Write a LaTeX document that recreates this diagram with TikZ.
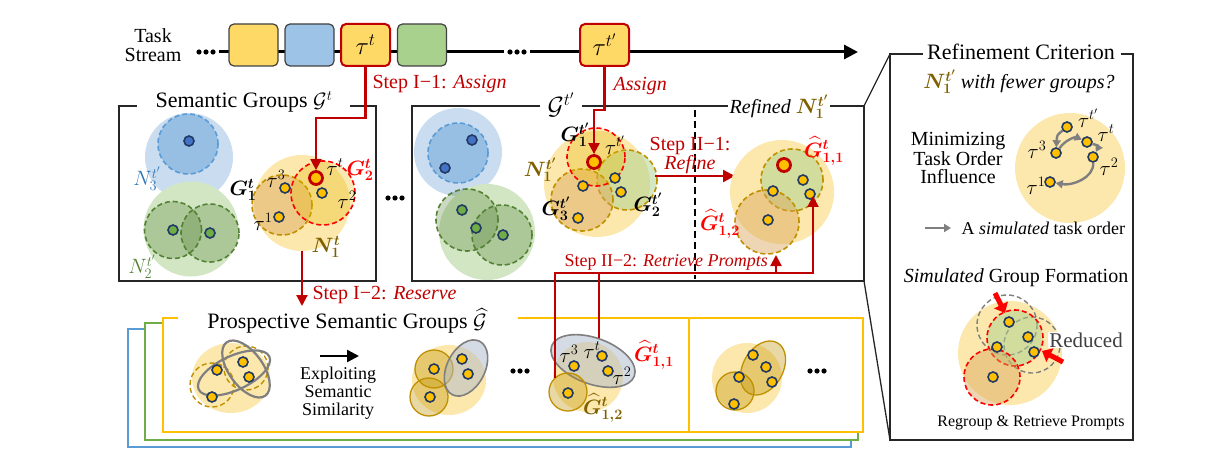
\documentclass[tikz,border=0pt]{standalone}
\usepackage{amsmath,bm}
\usepackage{fontspec}
\setmainfont{Liberation Serif}
\usetikzlibrary{arrows.meta,shapes.geometric}
\definecolor{lyel}{HTML}{FCE8AC}
\definecolor{dotY}{HTML}{FFC000}
\definecolor{navy}{HTML}{203864}
\definecolor{redC}{HTML}{C00000}
\definecolor{redF}{HTML}{FF0000}
\definecolor{brn}{HTML}{7F6000}
\definecolor{brd}{HTML}{BF9000}
\definecolor{bl}{HTML}{5B9BD5}
\definecolor{blt}{HTML}{2E75B6}
\definecolor{gr}{HTML}{548235}
\definecolor{byel}{HTML}{FFD966}
\definecolor{bblue}{HTML}{9DC3E6}
\definecolor{bgreen}{HTML}{A9D18E}
\definecolor{lblue}{HTML}{CADDF0}
\definecolor{lgreen}{HTML}{D3E6C4}
\definecolor{tanf}{HTML}{D9A55A}
\definecolor{goldf}{HTML}{E6B800}
\definecolor{bdotc}{HTML}{4472C4}
\definecolor{gdotc}{HTML}{70AD47}
\definecolor{grayc}{HTML}{7F7F7F}
\definecolor{grayf}{HTML}{ADB9CA}
\definecolor{yline}{HTML}{FFC000}
\definecolor{gline}{HTML}{70AD47}
\begin{document}
\begin{tikzpicture}[x=1pt,y=-1pt, font=\fontsize{20}{22}\selectfont,
 boxl/.style={draw=black!85, line width=1.3},
 redl/.style={draw=redC, line width=2.2},
 redarr/.style={redl, -{Triangle[width=11,length=11]}},
 tbox/.style={draw=black!75, line width=1.2, rounded corners=5, minimum width=49, minimum height=42, inner sep=0, font=\fontsize{24}{24}\selectfont},
 dot/.style={circle, draw=navy, line width=1.6, fill=dotY, inner sep=0, minimum size=10},
 rdot/.style={circle, draw=redC, line width=2.8, fill=dotY, inner sep=0, minimum size=13},
 bdot/.style={dot, fill=bdotc},
 gdot/.style={dot, fill=gdotc},
 disk/.style={circle, inner sep=0, draw=none},
 bigY/.style={disk, fill=lyel},
 bigB/.style={disk, fill=lblue},
 bigG/.style={disk, fill=lgreen},
 dsh/.style={circle, inner sep=0, line width=1.6, dash pattern=on 5pt off 3pt},
 inB/.style={dsh, draw=bl, fill=bl, fill opacity=0.45},
 inG/.style={dsh, draw=gr, fill=gr, fill opacity=0.3},
 brT/.style={dsh, draw=brd, fill=tanf, fill opacity=0.45},
 brG/.style={dsh, draw=brd, fill=bgreen, fill opacity=0.5},
 rdY/.style={dsh, draw=redF, fill=goldf, fill opacity=0.3},
 rdG/.style={dsh, draw=redF, fill=bgreen, fill opacity=0.5},
 rdT/.style={dsh, draw=redF, fill=tanf, fill opacity=0.45},
 grdsh/.style={dsh, draw=grayc, line width=1.4},
 brS/.style={circle, inner sep=0, draw=brd, line width=1.3, fill=brd, fill opacity=0.35},
 brSe/.style={ellipse, inner sep=0, draw=brd, line width=1.3, fill=brd, fill opacity=0.35},
 grE/.style={ellipse, inner sep=0, draw=grayc, line width=1.6, fill=grayf, fill opacity=0.5},
 grEo/.style={ellipse, inner sep=0, draw=grayc, line width=2.2},
 bdsh/.style={dsh, draw=brd, line width=1.4},
 grayarr/.style={draw=grayc, line width=2.4, -{Triangle[width=8,length=7]}},
 fatred/.style={draw=redF, line width=5, -{Triangle[width=15,length=9]}},
 lbl/.style={inner sep=0}
]
\useasboundingbox (0,0) rectangle (1230,470);

% ---------------- Task stream ----------------
\node[align=center, font=\fontsize{20}{19}\selectfont] (ts) at (153,45) {Task\\Stream};
\foreach \x in {199,206,213,510,517,524} \fill (\x,52) circle (2.6pt);
\draw[line width=3] (219,52) -- (504,52);
\draw[line width=3, -{Triangle[width=14,length=14]}] (530,52) -- (858,52);
\node[tbox, fill=byel] (b1) at (253.5,45) {};
\node[tbox, fill=bblue] (b2) at (309.5,45) {};
\node[tbox, fill=byel, draw=redC, line width=2] (tau) at (365.5,45) {$\tau^t$};
\node[tbox, fill=bgreen] (b4) at (422,45) {};
\node[tbox, fill=byel, draw=redC, line width=2] (taup) at (604.5,45) {$\tau^{t'}$};

% ---------------- Left panel ----------------
\node[bigB, minimum size=88] (B3) at (189,157) {};
\node[inB, minimum size=60] (B3i) at (188,144) {};
\node[bdot] (b3d) at (189,141) {};
\node[lbl, text=blt] (n3) at (147,179) {$N_3^{t'}$};

\node[bigG, minimum size=95] (G2big) at (191,229) {};
\node[inG, minimum size=57] (g2a) at (173,230) {};
\node[inG, minimum size=58] (g2b) at (210,233) {};
\node[gdot] (g2ad) at (173,230) {};
\node[gdot] (g2bd) at (210,233) {};
\node[lbl, text=gr] (n2) at (142,267) {$N_2^{t'}$};

\node[bigY, minimum size=96] (N1) at (302,203) {};
\node[brT, minimum size=60] (G1) at (282,205) {};
\node[rdY, minimum size=64] (G2t) at (323,193) {};
\node[rdot] (rd1) at (316,178) {};
\node[dot] (t3d) at (285,188) {};
\node[dot] (t2d) at (322,193) {};
\node[dot] (t1d) at (279,217) {};
\node[lbl] (lt) at (335,167) {$\tau^t$};
\node[lbl, text=redF] (lG2) at (360,170) {$\bm{G_2^t}$};
\node[lbl] (lG1) at (243,190) {$\bm{G_1^t}$};
\node[lbl] (lt3) at (276,179) {$\tau^3$};
\node[lbl] (lt2) at (347,200) {$\tau^2$};
\node[lbl] (lt1) at (263,222) {$\tau^1$};
\node[lbl, text=brn] (lN1) at (326,247) {$\bm{N_1^t}$};
\foreach \x in {388,395,402} \fill (\x,198) circle (2.6pt);

\draw[boxl] (137,106) -- (119,106) -- (119,281) -- (376,281) -- (376,106) -- (350,106);
\node (sgt) at (244,102) {\fontsize{22}{22}\selectfont Semantic Groups $\mathcal{G}^t$};

% Step I-1
\draw[redarr] (tau.south) |- (316,118) -- (rd1.north);
\node[anchor=west, text=redC] (s11) at (369,84) {Step I−1: \textit{Assign}};

% ---------------- Middle panel ----------------
\node[bigB, minimum size=88] (B3m) at (458,152) {};
\node[inB, minimum size=60] (B3mi) at (458,153) {};
\node[bdot] (bm1) at (472,140) {};
\node[bdot] (bm2) at (445,168) {};

\node[bigG, minimum size=96] (G2m) at (487,232) {};
\node[inG, minimum size=62] (gm1) at (467,220) {};
\node[inG, minimum size=60] (gm2) at (502,235) {};
\node[gdot] (gmd1) at (462,210) {};
\node[gdot] (gmd2) at (476,228) {};
\node[gdot] (gmd3) at (503,235) {};

\node[bigY, minimum size=106] (N1m) at (597,184) {};
\node[brG, minimum size=60] (G2p) at (627,180) {};
\node[brT, minimum size=62] (G3p) at (582,200) {};
\node[rdY, minimum size=58] (G1p) at (596,157) {};
\node[rdot] (rd2) at (594,162) {};
\node[dot] (md1) at (583,186) {};
\node[dot] (md2) at (615,178) {};
\node[dot] (md3) at (621,192) {};
\node[dot] (md4) at (578,218) {};
\node[lbl] (lG1p) at (575,135) {$\bm{G_1^{t'}}$};
\node[lbl] (ltp) at (615,145) {$\tau^{t'}$};
\node[lbl, text=brn] (lN1p) at (540,170) {$\bm{N_1^{t'}}$};
\node[lbl] (lG3p) at (556,209) {$\bm{G_3^{t'}}$};
\node[lbl] (lG2p) at (648,205) {$\bm{G_2^{t'}}$};

\draw[boxl] (540,106) -- (412,106) -- (412,281) -- (864,281) -- (864,106) -- (830,106);
\draw[boxl] (582,106) -- (728,106);
\node (sgtp) at (561,105) {\fontsize{24}{24}\selectfont $\mathcal{G}^{t'}$};
\node (rfn) at (779,107) {\textit{Refined} $\color{brn}\bm{N_1^{t'}}$};
\draw[line width=1.6, dash pattern=on 7pt off 4pt] (695,110) -- (695,279);

% Assign
\draw[redarr] (taup.south) |- (594,110) -- (rd2.north);
\node[anchor=west, text=redC] (sa) at (610,86) {\textit{Assign}};

% Step II-1
\coordinate (r1s) at (655,176);
\coordinate (r1e) at (735,176);
\draw[redl, -{Triangle[width=12,length=12]}] (r1s) -- (r1e);
\node[text=redC, align=center, font=\fontsize{20}{19}\selectfont] (s21) at (690,156) {Step II−1:\\\textit{Refine}};

% refined
\node[bigY, minimum size=104] (Nr) at (782,192) {};
\node[brG, minimum size=62] (Gh11) at (792,180) {};
\node[brT, minimum size=64] (Gh12) at (767,222) {};
\node[rdot] (rr) at (784,165) {};
\node[dot] (rd_a) at (803,180) {};
\node[dot] (rd_b) at (810,194) {};
\node[dot] (rd_c) at (773,191) {};
\node[dot] (rd_d) at (768,220) {};
\node[lbl, text=redF] (lh11) at (824,151) {$\bm{\widehat{G}^t_{1,1}}$};
\node[lbl, text=redF] (lh12) at (720,224) {$\bm{\widehat{G}^t_{1,2}}$};

% ---------------- Bottom panel ----------------
\filldraw[draw=bl, line width=1.5, fill=white] (128,329) rectangle (851,447);
\filldraw[draw=gline, line width=1.5, fill=white] (145,323) rectangle (858,440);
\fill[white] (163,318) rectangle (863,432);
\draw[draw=yline, line width=1.8] (178,318) -- (163,318) -- (163,432) -- (863,432) -- (863,318) -- (518,318);
\draw[draw=yline, line width=1.8] (689,318) -- (689,432);
\node (psg) at (347,321) {\fontsize{22}{22}\selectfont Prospective Semantic Groups $\widehat{\mathcal{G}}$};

% group 1
\node[ellipse, fill=lyel, minimum width=78, minimum height=70, inner sep=0] (py1) at (231,378) {};
\node[bdsh, minimum size=44] (pd1) at (212,385) {};
\node[bdsh, minimum size=44] (pd2) at (246,368) {};
\node[grEo, minimum width=78, minimum height=34, rotate=25] (pe1) at (234,373) {};
\node[grEo, minimum width=66, minimum height=34, rotate=-54] (pe2) at (246,369) {};
\node[dot] (p1a) at (217,370) {};
\node[dot] (p1b) at (243,362) {};
\node[dot] (p1c) at (249,377) {};
\node[dot] (p1d) at (212,397) {};

\coordinate (ex1) at (320,356);
\coordinate (ex2) at (359,356);
\draw[line width=2.4, -{Triangle[width=12,length=12]}] (ex1) -- (ex2);
\node[align=center, font=\fontsize{18}{18}\selectfont] (exs) at (338,393) {Exploiting\\Semantic\\Similarity};

% group 2
\node[ellipse, fill=lyel, minimum width=74, minimum height=70, inner sep=0] (py2) at (449,380) {};
\node[brS, minimum size=38] (q1) at (434,369) {};
\node[brS, minimum size=38] (q2) at (429,397) {};
\node[grE, minimum width=60, minimum height=38, rotate=63] (q3) at (466,368) {};
\node[dot] (q1d) at (434,369) {};
\node[dot] (q2d) at (462,359) {};
\node[dot] (q3d) at (468,374) {};
\node[dot] (q4d) at (430,397) {};
\foreach \x in {513,520,527} \fill (\x,371) circle (2.6pt);

% group 3
\node[bigY, minimum size=70] (py3) at (588,377) {};
\node[grE, minimum width=88, minimum height=46, rotate=-20] (gh11b) at (593,361) {};
\node[brS, minimum size=38] (gh12b) at (568,392) {};
\node[dot] (r3a) at (574,366) {};
\node[dot] (r3b) at (602,356) {};
\node[dot] (r3c) at (608,371) {};
\node[dot] (r3d) at (568,393) {};
\node[lbl] (lb3) at (569,354) {$\tau^3$};
\node[lbl] (lbt) at (592,350) {$\tau^t$};
\node[lbl] (lb2) at (622,376) {$\tau^2$};
\node[lbl, text=redF] (lbh11) at (654,355) {$\bm{\widehat{G}^t_{1,1}}$};
\node[lbl, text=brn] (lbh12) at (603,408) {$\bm{\widehat{G}^t_{1,2}}$};
\foreach \x in {810,817,824} \fill (\x,371) circle (2.6pt);

% group 4
\node[bigY, minimum size=70] (py4) at (747,378) {};
\node[brSe, minimum width=58, minimum height=40, rotate=60] (s1) at (763,368) {};
\node[brS, minimum size=38] (s2) at (735,391) {};
\node[dot] (s1a) at (753,355) {};
\node[dot] (s1b) at (766,367) {};
\node[dot] (s1c) at (772,382) {};
\node[dot] (s1d) at (739,377) {};
\node[dot] (s1e) at (734,404) {};

% Step I-2
\draw[redarr] (N1.south) -- (302,306);
\node[anchor=west, text=redC] (s12) at (309,295) {Step I−2: \textit{Reserve}};

% Step II-2
\coordinate (c1) at (555,378);
\coordinate (c2) at (599,338);
\coordinate (a1) at (776,255);
\coordinate (a2) at (813,196);
\draw[redarr] (c1) |- (776,273) -- (a1);
\draw[redarr] (c2) |- (813,273) -- (a2);
\node[anchor=west, text=redC, font=\fontsize{18}{20}\selectfont] (s22) at (561,262) {Step II−2: \textit{Retrieve Prompts}};

% ---------------- Right panel ----------------
\draw[boxl] (864,106) -- (890,54);
\draw[boxl] (864,281) -- (890,440);
\draw[boxl] (923,54) -- (890,54) -- (890,440) -- (1133,440) -- (1133,54) -- (1121,54);
\node (rc) at (1021,52) {\fontsize{22}{22}\selectfont Refinement Criterion};
\node (fg) at (1019,82) {$\color{brn}\bm{N_1^{t'}}$ \textit{with fewer groups?}};
\node[align=center, font=\fontsize{20}{18}\selectfont] (mt) at (958,158) {Minimizing\\Task Order\\Influence};
\node[bigY, minimum size=110] (rY) at (1070,168) {};
\node[dot] (rtp) at (1067,127) {};
\node[dot] (rtt) at (1087,142) {};
\node[dot] (rt2) at (1093,157) {};
\node[dot] (rt3) at (1056,153) {};
\node[dot] (rt1) at (1050,182) {};
\draw[grayarr] (rtp) .. controls (1057,135) .. (rt3);
\draw[grayarr] (rt3) .. controls (1066,139) and (1076,137) .. (rtt);
\draw[grayarr] (rtt) .. controls (1099,146) .. (rt2);
\draw[grayarr] (rt2) .. controls (1094,178) and (1072,186) .. (rt1);
\node[lbl] (ltp2) at (1088,118) {$\tau^{t'}$};
\node[lbl] (ltt2) at (1106,133) {$\tau^t$};
\node[lbl] (lt22) at (1109,167) {$\tau^2$};
\node[lbl] (lt32) at (1037,150) {$\tau^3$};
\node[lbl] (lt12) at (1036,186) {$\tau^1$};
\coordinate (lg1) at (925,228);
\coordinate (lg2) at (951,228);
\draw[grayarr] (lg1) -- (lg2);
\node[anchor=west, font=\fontsize{18}{18}\selectfont] (lgt) at (958,228) {A \textit{simulated} task order};

\node (sgf) at (1016,278) {\textit{Simulated} Group Formation};
\node[bigY, minimum size=104] (sY) at (1010,353) {};
\node[grdsh, minimum size=60] (sg1) at (1007,325) {};
\node[grdsh, minimum size=56] (sg2) at (1032,345) {};
\node[rdG, minimum size=56] (sr1) at (1015,338) {};
\node[rdT, minimum size=56] (sr2) at (992,377) {};
\node[dot] (sd1) at (1009,322) {};
\node[dot] (sd2) at (1028,337) {};
\node[dot] (sd3) at (1034,352) {};
\node[dot] (sd4) at (997,347) {};
\node[dot] (sd5) at (993,377) {};
\coordinate (fa1) at (995,293);
\coordinate (fa2) at (1005,313);
\coordinate (fb1) at (1063,362);
\coordinate (fb2) at (1042,351);
\draw[fatred] (fa1) -- (fa2);
\draw[fatred] (fb1) -- (fb2);
\node[fill=white, inner sep=1, text=black!75, font=\fontsize{21}{21}\selectfont] (red) at (1086,340) {Reduced};
\node[font=\fontsize{16}{16}\selectfont] (rg) at (1031,423) {Regroup \& Retrieve Prompts};
\end{tikzpicture}
\end{document}
